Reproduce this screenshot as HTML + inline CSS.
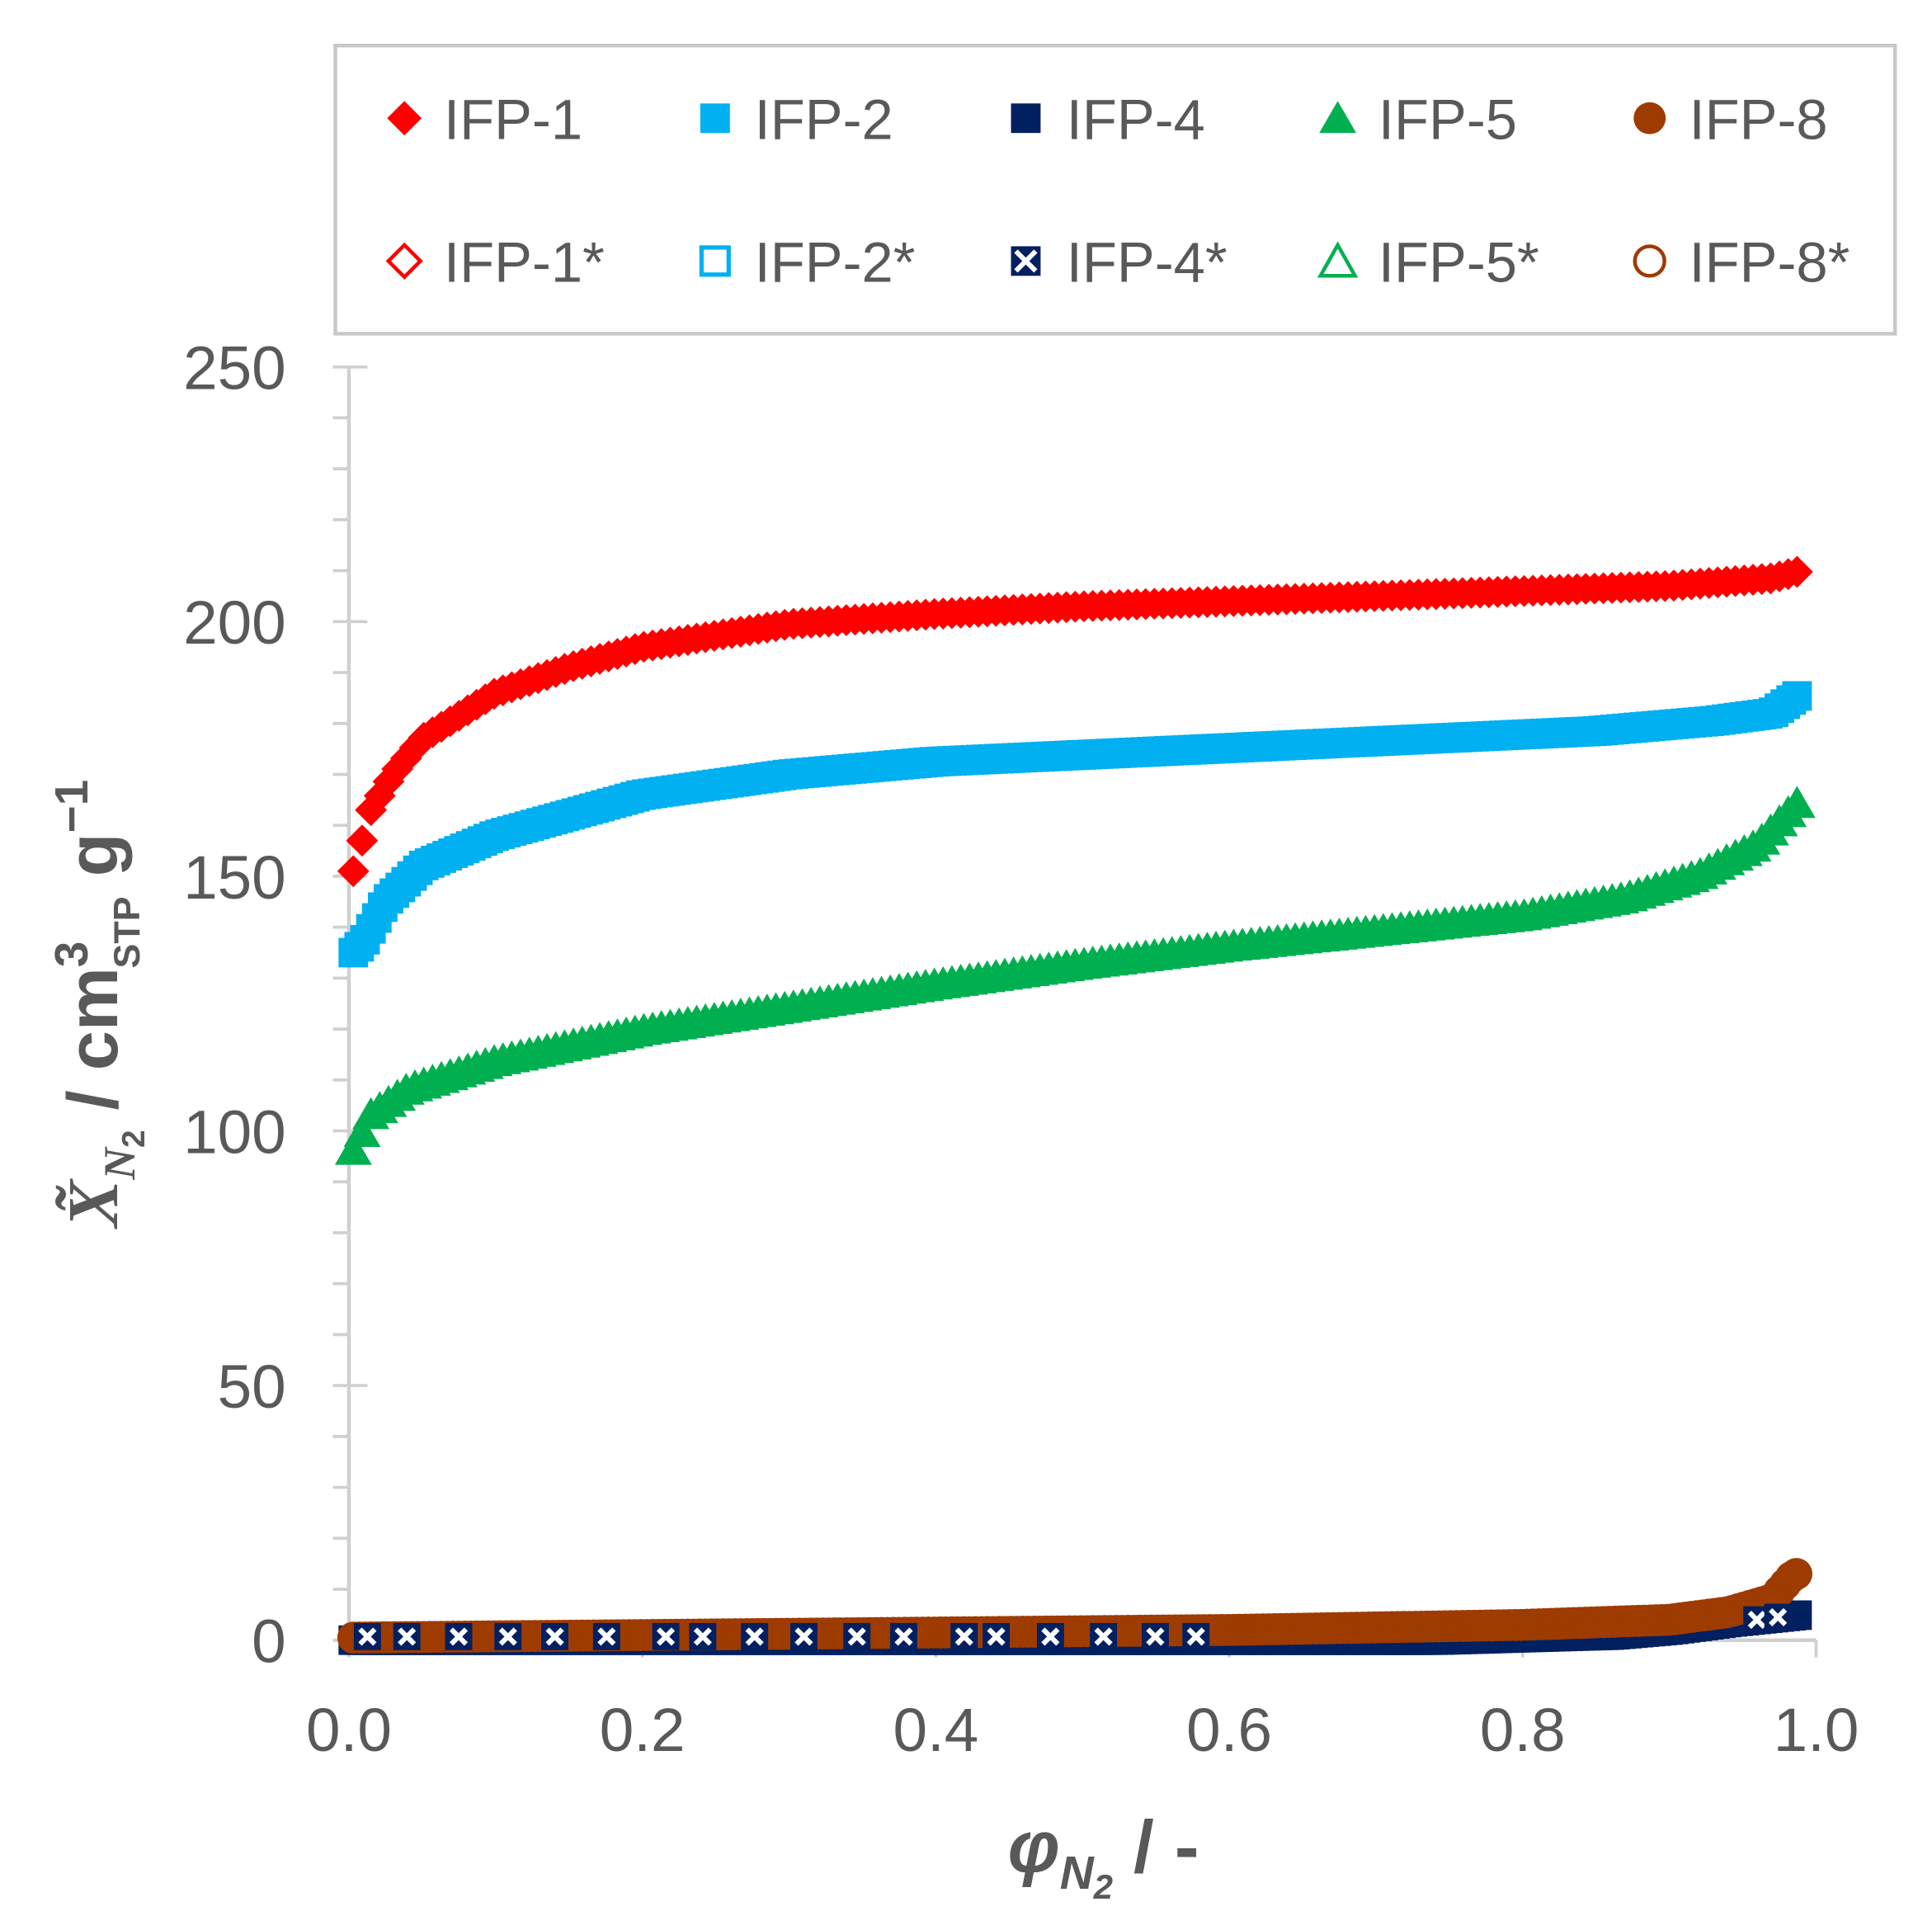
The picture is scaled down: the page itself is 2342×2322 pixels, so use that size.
<!DOCTYPE html>
<html><head><meta charset="utf-8"><style>
html,body{margin:0;padding:0;background:#fff;}
svg{display:block;}
text{font-family:"Liberation Sans",sans-serif;fill:#595959;}
</style></head><body>
<svg id="s" width="2342" height="2322" viewBox="0 0 1567 1556" preserveAspectRatio="none" xmlns="http://www.w3.org/2000/svg">
<rect x="0" y="0" width="1567" height="1556" fill="#fff"/>
<!-- legend -->
<rect x="272" y="37" width="1265" height="234" fill="#fff" stroke="#c8c8c8" stroke-width="3"/>
<g font-size="46">
<polygon points="328,82 342,96 328,110 314,96" fill="#ff0000"/>
<text x="360" y="113">IFP-1</text>
<rect x="568" y="84" width="24" height="24" fill="#00b0f0"/>
<text x="612" y="113">IFP-2</text>
<rect x="820" y="84" width="24" height="24" fill="#002060"/>
<text x="865" y="113">IFP-4</text>
<polygon points="1085,82 1100,108 1070,108" fill="#00b050"/>
<text x="1118" y="113">IFP-5</text>
<circle cx="1338" cy="96" r="13" fill="#9e3b00"/>
<text x="1370" y="113">IFP-8</text>
<polygon points="328,199 341,212 328,225 315,212" fill="none" stroke="#ff0000" stroke-width="3"/>
<text x="360" y="229">IFP-1*</text>
<rect x="569" y="201" width="22" height="22" fill="none" stroke="#00b0f0" stroke-width="3.5"/>
<text x="612" y="229">IFP-2*</text>
<rect x="820" y="200" width="24" height="24" fill="#002060"/>
<path d="M824 204 L840 220 M840 204 L824 220" stroke="#fff" stroke-width="4"/>
<text x="865" y="229">IFP-4*</text>
<polygon points="1085,199 1099,224 1071,224" fill="none" stroke="#00b050" stroke-width="3"/>
<text x="1118" y="229">IFP-5*</text>
<circle cx="1338" cy="212" r="12" fill="none" stroke="#9e3b00" stroke-width="3"/>
<text x="1370" y="229">IFP-8*</text>
</g>
<!-- axes -->
<g id="ax" stroke="#d0d0d0" stroke-width="3"></g>
<g id="data"></g>
<g font-size="50" text-anchor="end" id="yl"></g>
<g font-size="50" text-anchor="middle" id="xl"></g>
<text x="895" y="1520" font-size="60" font-family="Liberation Serif,serif" font-style="italic" font-weight="bold" text-anchor="middle">φ<tspan font-size="38" dy="14">N</tspan><tspan font-size="28" dy="8">2</tspan><tspan dy="-22" font-size="60" font-style="normal" font-family="Liberation Sans,sans-serif"> / -</tspan></text>
<g transform="translate(95,815) rotate(-90)">
<text x="0" y="0" font-size="58" font-weight="bold" text-anchor="middle"><tspan font-family="Liberation Serif,serif" font-style="italic">X̃</tspan><tspan font-size="36" dy="14" font-family="Liberation Serif,serif" font-style="italic">N</tspan><tspan font-size="26" dy="8">2</tspan><tspan dy="-22"> / cm</tspan><tspan font-size="38" dy="-24">3</tspan><tspan font-size="30" dy="42" dx="-22">STP</tspan><tspan dy="-18"> g</tspan><tspan font-size="38" dy="-24">−1</tspan></text>
</g>
</svg>
<script>
var NS="http://www.w3.org/2000/svg";
function el(p,t,a){var e=document.createElementNS(NS,t);for(var k in a)e.setAttribute(k,a[k]);p.appendChild(e);return e;}
var X=function(p){return 283+1190*p;}, Y=function(v){return 1332-v*4.136;};
var ax=document.getElementById('ax');
el(ax,'line',{x1:283,y1:298,x2:283,y2:1336});
el(ax,'line',{x1:283,y1:1332,x2:1473,y2:1332});
for(var v=0;v<=250;v+=10){var maj=v%50==0;el(ax,'line',{x1:270,y1:Y(v),x2:maj?298:283,y2:Y(v),'stroke-width':2.5});}
for(var i=0;i<=5;i++){el(ax,'line',{x1:X(i*0.2),y1:1332,x2:X(i*0.2),y2:1346,'stroke-width':2.5});}
var yl=document.getElementById('yl');
for(var v=0;v<=250;v+=50){var t=el(yl,'text',{x:232,y:Y(v)+18});t.textContent=v;}
var xl=document.getElementById('xl');
for(var i=0;i<=5;i++){var t=el(xl,'text',{x:X(i*0.2),y:1422});t.textContent=(i*0.2).toFixed(1);}
function interp(pts,p){for(var i=0;i<pts.length-1;i++){if(p<=pts[i+1][0]){var a=pts[i],b=pts[i+1];return a[1]+(b[1]-a[1])*(p-a[0])/(b[0]-a[0]);}}return pts[pts.length-1][1];}
var d=document.getElementById('data');
function series(pts,shape,col,step){
 for(var p=pts[0][0];p<=pts[pts.length-1][0]+1e-9;p+=step){var x=X(p),y=Y(interp(pts,p));draw(shape,col,x,y);}
}
function draw(shape,col,x,y){
 if(shape=='d')el(d,'polygon',{points:(x)+','+(y-13)+' '+(x+13)+','+y+' '+x+','+(y+13)+' '+(x-13)+','+y,fill:col});
 else if(shape=='s')el(d,'rect',{x:x-12,y:y-12,width:24,height:24,fill:col});
 else if(shape=='t')el(d,'polygon',{points:x+','+(y-15)+' '+(x+15)+','+(y+11)+' '+(x-15)+','+(y+11),fill:col});
 else if(shape=='c')el(d,'circle',{cx:x,cy:y,r:13,fill:col});
 else if(shape=='x'){el(d,'rect',{x:x-11,y:y-11,width:22,height:22,fill:'#002060'});el(d,'path',{d:'M'+(x-6)+' '+(y-6)+'L'+(x+6)+' '+(y+6)+'M'+(x+6)+' '+(y-6)+'L'+(x-6)+' '+(y+6),stroke:'#fff','stroke-width':4});}
}
var red=[[0.003,151],[0.015,163],[0.03,170],[0.05,177],[0.1,186],[0.15,191],[0.2,195],[0.3,199.5],[0.4,201.5],[0.5,203],[0.6,204],[0.7,205],[0.8,206],[0.9,207],[0.97,208.5],[0.99,210]];
var blue=[[0.003,135],[0.01,137],[0.025,145],[0.05,152],[0.1,158],[0.15,162],[0.2,166],[0.3,170],[0.4,172.5],[0.55,174.5],[0.7,176.5],[0.85,178.5],[0.93,180.5],[0.97,182],[0.99,186]];
var green=[[0.003,96],[0.015,103],[0.04,108],[0.1,113.5],[0.2,119.5],[0.3,124],[0.4,128.5],[0.5,132.5],[0.6,136],[0.7,139],[0.8,142],[0.87,145.5],[0.92,150],[0.96,156],[0.99,165]];
var navy=[[0.003,0],[0.74,0],[0.8,0.5],[0.86,1],[0.9,2],[0.94,3.5],[0.99,5]];
var brown=[[0.003,0.5],[0.2,1],[0.6,2],[0.8,3],[0.9,4],[0.94,5.5],[0.97,8],[0.985,13]];
series(green,'t','#00b050',0.006);
series(blue,'s','#00b0f0',0.004);
series(red,'d','#ff0000',0.006);
series(navy,'s','#002060',0.004);
series(brown,'c','#9e3b00',0.004);
[298,330,372,412,450,492,540,570,612,652,695,733,782,808,852,895,937,970].forEach(function(x){draw('x','',x,Y(0.7));});
draw('x','',1425,Y(4));draw('x','',1442,Y(4.5));
draw('c','#9e3b00',1457,Y(13));
</script>
</body></html>
